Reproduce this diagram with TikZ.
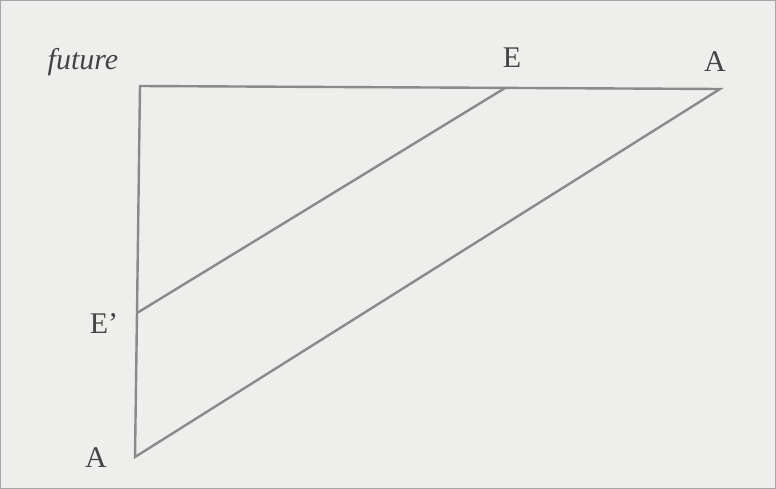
\documentclass[tikz,border=0pt]{standalone}
\usepackage{fontspec}
\setmainfont{Liberation Serif}
\definecolor{bg}{HTML}{EEEEEC}
\definecolor{ln}{HTML}{8A8A8A}
\definecolor{tx}{HTML}{444444}
\begin{document}
\begin{tikzpicture}[x=1pt,y=-1pt,
  seg/.style={draw=ln,line width=2.4pt,line join=miter},
  lbl/.style={text=tx,font=\fontsize{30}{34}\selectfont,inner sep=0pt}]
\fill[bg] (0,0) rectangle (776,489);
\draw[gray!70,line width=1.2pt] (0.6,0.6) rectangle (775.4,488.4);
\useasboundingbox (0,0) rectangle (776,489);
\coordinate (F) at (140,86);
\coordinate (E) at (505,88);
\coordinate (A) at (720,89);
\coordinate (Ep) at (137,313);
\coordinate (B) at (135,457);
\draw[seg] (Ep) -- (F) -- (A) -- (B) -- (Ep);
\draw[seg] (E) -- (Ep);
\node[lbl,font=\fontsize{30}{34}\selectfont\itshape] (lf) at (83,62) {future};
\node[lbl] (lE) at (512,58) {E};
\node[lbl] (lA) at (715,62) {A};
\node[lbl] (lEp) at (104,324) {E'};
\node[lbl] (lB) at (96,458) {A};
\end{tikzpicture}
\end{document}
